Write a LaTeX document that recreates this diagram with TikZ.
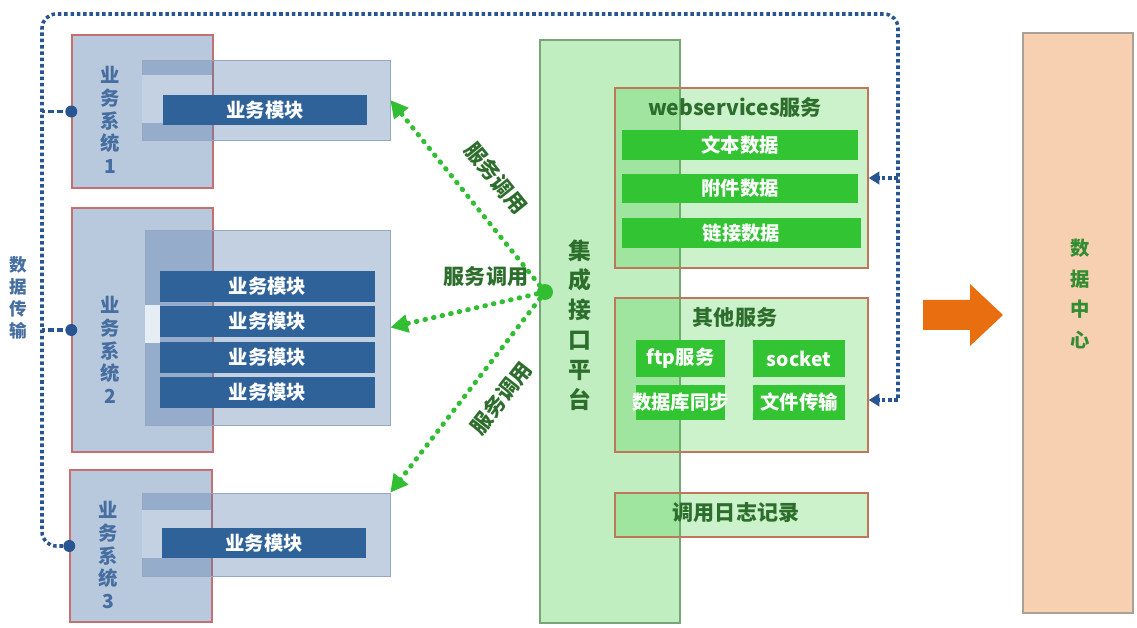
\documentclass[tikz,border=0pt]{standalone}
\usepackage{fontspec}
\setmainfont{Noto Sans CJK SC}
\usetikzlibrary{fit,positioning,arrows.meta,calc}
\definecolor{sysfill}{RGB}{185,201,221}
\definecolor{sysline}{RGB}{196,112,112}
\definecolor{innerfill}{RGB}{84,121,172}
\definecolor{innerline}{RGB}{150,168,192}
\definecolor{innerlight}{RGB}{196,209,227}
\definecolor{modfill}{RGB}{47,98,153}
\definecolor{systext}{RGB}{70,110,160}
\definecolor{platfill}{RGB}{193,238,193}
\definecolor{platline}{RGB}{120,165,120}
\definecolor{svcfill}{RGB}{70,207,70}
\definecolor{svcline}{RGB}{192,118,90}
\definecolor{barfill}{RGB}{50,196,50}
\definecolor{darkgreen}{RGB}{45,110,45}
\definecolor{callgreen}{RGB}{50,190,50}
\definecolor{linkblue}{RGB}{40,85,145}
\definecolor{arroworange}{RGB}{232,110,16}
\definecolor{dcfill}{RGB}{246,208,176}
\definecolor{dcline}{RGB}{170,160,150}
\definecolor{dctext}{RGB}{50,140,50}
\begin{document}
\begin{tikzpicture}[x=0.02cm,y=-0.02cm,
  sys node/.style={draw=sysline,fill=sysfill,line width=0.8pt,inner sep=0pt},
  inner node/.style={draw=innerline,fill=innerfill,fill opacity=0.35,inner sep=0pt},
  mod node/.style={fill=modfill,inner sep=0pt},
  mod text/.style={text=white,inner sep=0pt,font=\bfseries\fontsize{11}{12}\selectfont},
  sys text/.style={align=center,text=systext,font=\bfseries\fontsize{11}{13}\selectfont},
  plat node/.style={draw=platline,fill=platfill,line width=0.6pt,inner sep=0pt},
  svc node/.style={draw=svcline,fill=svcfill,fill opacity=0.27,line width=0.8pt,inner sep=0pt},
  bar node/.style={fill=barfill,inner sep=0pt},
  bar text/.style={text=white,inner sep=0pt,font=\bfseries\fontsize{11}{12}\selectfont},
  title text/.style={text=darkgreen,font=\bfseries\fontsize{12}{13}\selectfont},
  call line/.style={draw=callgreen,line width=2.8pt,line cap=round,dash pattern=on 0.4pt off 4.6pt,-{Triangle[length=10pt,width=10pt]}},
  call text/.style={text=darkgreen,font=\bfseries\fontsize{12}{13}\selectfont},
  blue dots/.style={draw=linkblue,line width=2pt,dash pattern=on 2pt off 1.6pt},
  blue dash/.style={draw=linkblue,line width=2pt,dash pattern=on 3pt off 2pt},
  dot node/.style={circle,fill=linkblue,inner sep=0pt,minimum size=0.24cm}]

  \useasboundingbox (0,0) rectangle (1137,628);
  \fill[white] (0,0) rectangle (1137,628);

  % business systems
  \node[sys node,fit={(72,35)(213,188)}] (sys1) {};
  \node[inner node,fit={(142,60)(390,140)}] (in1) {};
  \fill[innerlight] (142,75) rectangle (212,123);
  \node[mod node,fit={(163,95)(367,125)},label={[mod text]center:业务模块}] (m1) {};
  \node[sys text] (s1) at (110,120) {业\\务\\系\\统\\1};

  \node[sys node,fit={(72,208)(213,452)}] (sys2) {};
  \node[inner node,fit={(145,230)(390,425)}] (in2) {};
  \fill[white!60!innerlight] (145,305) rectangle (160,343);
  \foreach \i/\t in {1/271,2/306,3/342,4/377}
    \node[mod node,fit={(160,\t)(375,\t+31)},label={[mod text]center:业务模块}] (m2\i) {};
  \node[sys text] (s2) at (110,350) {业\\务\\系\\统\\2};

  \node[sys node,fit={(70,470)(212,622)}] (sys3) {};
  \node[inner node,fit={(142,493)(390,576)}] (in3) {};
  \fill[innerlight] (142,510) rectangle (211,558);
  \node[mod node,fit={(162,528)(366,558)},label={[mod text]center:业务模块}] (m3) {};
  \node[sys text] (s3) at (108,555) {业\\务\\系\\统\\3};

  % integration platform
  \node[plat node,fit={(540,40)(680,623)}] (plat) {};
  \node[align=center,text=darkgreen,font=\bfseries\fontsize{13}{17}\selectfont] (platname) at (580,325) {集\\成\\接\\口\\平\\台};

  \node[svc node,fit={(615,88)(868,268)}] (web) {};
  \node[title text] (webname) at (735,108) {webservices服务};
  \node[bar node,fit={(622,130)(858,160)},label={[bar text]center:文本数据}] (b1) {};
  \node[bar node,fit={(622,174)(858,203)},label={[bar text]center:附件数据}] (b2) {};
  \node[bar node,fit={(622,218)(861,248)},label={[bar text]center:链接数据}] (b3) {};

  \node[svc node,fit={(615,298)(868,452)}] (other) {};
  \node[title text] (othername) at (735,317) {其他服务};
  \node[bar node,fit={(636,340)(725,377)},label={[bar text]center:ftp服务}] (ftp) {};
  \node[bar node,fit={(753,340)(845,377)},label={[bar text]center:socket}] (sock) {};
  \node[bar node,fit={(636,385)(725,420)},label={[bar text]center:数据库同步}] (db) {};
  \node[bar node,fit={(753,385)(845,420)},label={[bar text]center:文件传输}] (file) {};

  \node[svc node,fit={(615,493)(868,537)}] (log) {};
  \node[title text] (logname) at (736,513) {调用日志记录};

  % data center
  \node[draw=dcline,fill=dcfill,line width=0.8pt,inner sep=0pt,fit={(1023,33)(1133,613)}] (dc) {};
  \node[align=center,text=dctext,font=\bfseries\fontsize{11}{17.5}\selectfont] (dcname) at (1080,294) {数\\据\\中\\心};
  \fill[arroworange] (923,300) -- (970,300) -- (970,284) -- (1003,315) -- (970,346) -- (970,330) -- (923,330) -- cycle;

  % service calls
  \node[circle,fill=callgreen,inner sep=0pt,minimum size=0.32cm] (hub) at (545,292) {};
  \draw[call line] (hub) -- (in1.east);
  \draw[call line] (hub) -- (in2.east);
  \draw[call line] (hub) -- (in3.north east);
  \node[call text,rotate=-51] (call1) at (496,178) {服务调用};
  \node[call text] (call2) at (486,277) {服务调用};
  \node[call text,rotate=52] (call3) at (501,398) {服务调用};

  % data transfer
  \coordinate (tl) at (42,14);
  \coordinate (tr) at (898,14);
  \coordinate (ar1) at (898,178);
  \coordinate (ar2) at (898,400);
  \draw[blue dots,rounded corners=8pt] (sys3.west) -| (tl) -- (tr) -- (ar2);
  \draw[blue dots,-{Triangle[length=6pt,width=7pt]}] (ar1) -- (ar1 -| web.east);
  \draw[blue dots,-{Triangle[length=6pt,width=7pt]}] (ar2) -- (ar2 -| other.east);
  \draw[blue dash] (sys1.west) -- (sys1.west -| tl);
  \draw[blue dash] (sys2.west) -- (sys2.west -| tl);
  \node[dot node] (d1) at (sys1.west) {};
  \node[dot node] (d2) at (sys2.west) {};
  \node[dot node] (d3) at (sys3.west) {};
  \node[align=center,text=systext,font=\bfseries\fontsize{10}{12.5}\selectfont] (xfer) at (18,298) {数\\据\\传\\输};
\end{tikzpicture}
\end{document}
